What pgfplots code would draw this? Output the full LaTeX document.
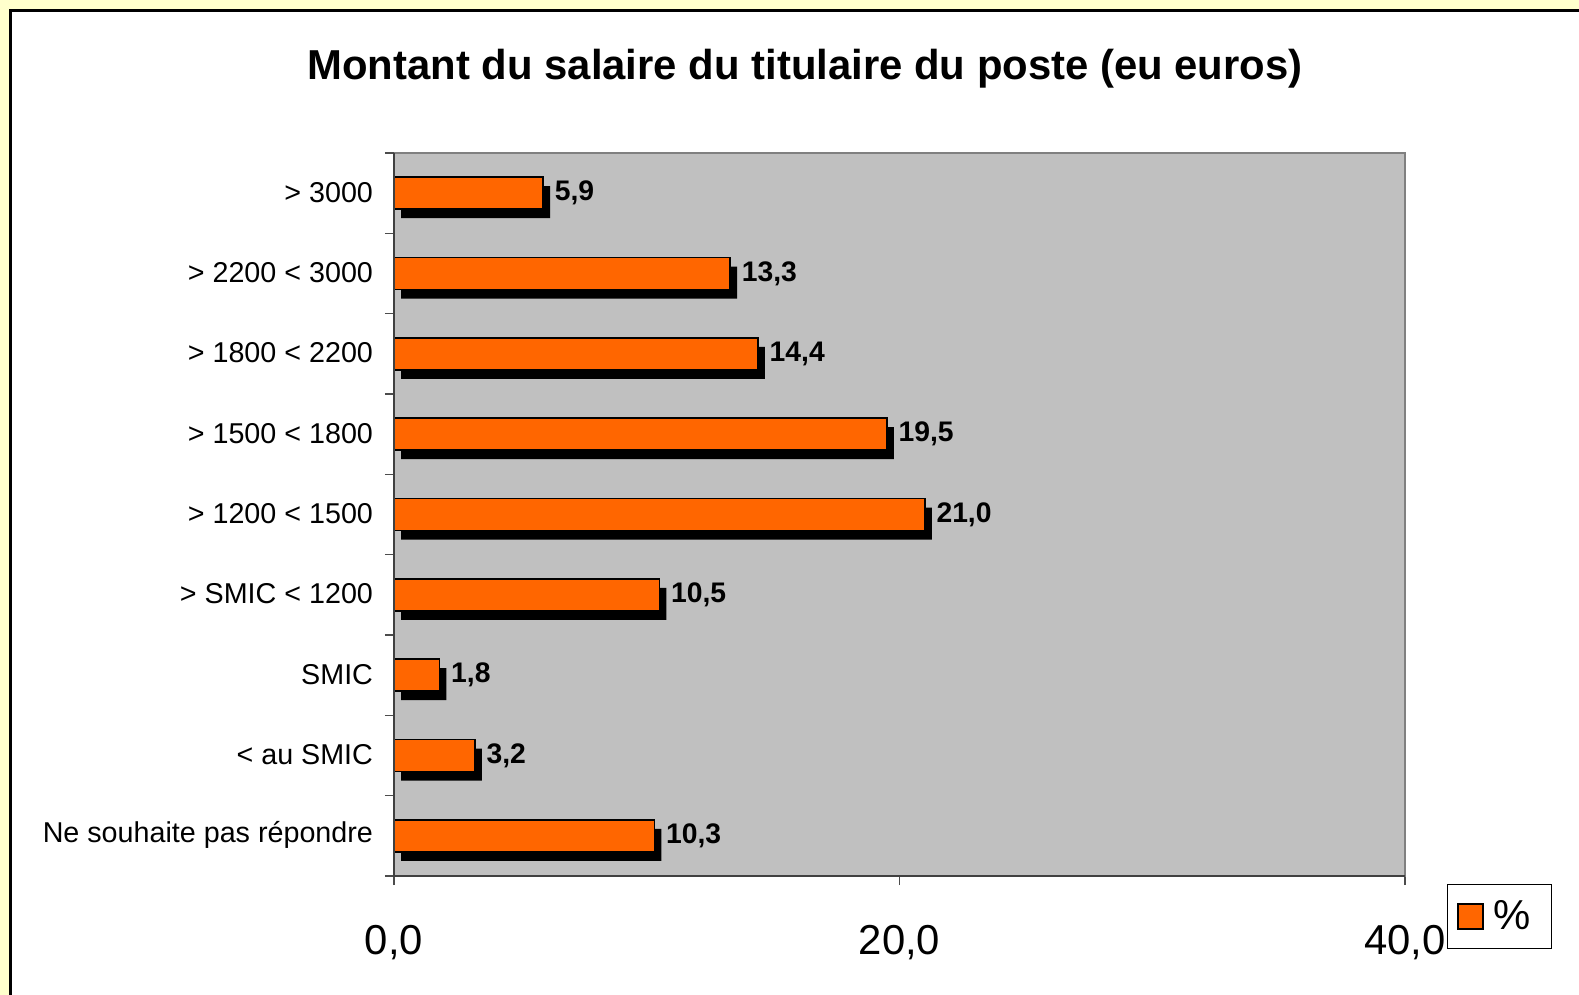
\documentclass[border=0pt]{standalone}
\usepackage{pgfplots}
\usepackage{pgfplotstable}
\pgfplotsset{compat=1.18}
\usepackage{fontspec}
\setmainfont{Liberation Sans}
\definecolor{bgyellow}{HTML}{FFFFCC}
\definecolor{barorange}{HTML}{FF6600}
\definecolor{plotgray}{HTML}{C0C0C0}
\definecolor{framegray}{HTML}{808080}

\pgfplotstableread{
y v
1 10.3
2 3.2
3 1.8
4 10.5
5 21.0
6 19.5
7 14.4
8 13.3
9 5.9
}\datatable

\begin{document}
\begin{tikzpicture}
\useasboundingbox (0,0) rectangle (789.5bp,-497.5bp);
\fill[bgyellow] (0,0) rectangle (789.5bp,-497.5bp);
\fill[white] (5.25bp,-5.25bp) rectangle (789.5bp,-497.5bp);
\draw[black, line width=1.5bp] (5.25bp,-497.5bp) -- (5.25bp,-5.25bp) -- (789.5bp,-5.25bp);
\node[font=\fontsize{21}{25}\selectfont\bfseries] at (402.5bp,-34.2bp) {Montant du salaire du titulaire du poste (eu euros)};

\begin{axis}[
  at={(197bp,-438bp)}, anchor=south west,
  scale only axis, width=505.5bp, height=361.5bp,
  xmin=0, xmax=40, ymin=0.5, ymax=9.5,
  clip=false,
  axis background/.style={fill=plotgray},
  axis line style={draw=framegray, line width=1.2bp},
  xtick pos=bottom, ytick pos=left,
  xtick={0,20,40}, xticklabels={{0,0},{20,0},{40,0}},
  ytick={0.5,1.5,...,8.5},
  yticklabels={Ne souhaite pas répondre, < au SMIC, SMIC, > SMIC < 1200, > 1200 < 1500, > 1500 < 1800, > 1800 < 2200, > 2200 < 3000, > 3000},
  extra y ticks={9.5}, extra y tick labels={},
  tick align=outside, major tick length=4.5bp,
  tick style={draw=black!70, line width=0.6bp},
  yticklabel style={font=\fontsize{14.4}{16}\selectfont, yshift=20.6bp, xshift=-2.5bp},
  xticklabel style={font=\fontsize{21}{25}\selectfont, yshift=-16.5bp},
  legend style={at={(1.0415,-0.011)}, anchor=north west, draw=black, line width=0.5bp, fill=white,
    font=\fontsize{21}{25}\selectfont, inner xsep=5bp, inner ysep=6bp,
    nodes={inner xsep=5bp, inner ysep=2bp}},
  after end axis/.code={\draw[black!75, line width=0.8bp] (rel axis cs:0,1) -- (rel axis cs:0,0) -- (rel axis cs:1,0);},
  /pgf/number format/assume math mode=true,
]
\addplot[xbar, bar width=16bp, bar shift=-4.5bp, xshift=3.5bp, fill=black, draw=none, forget plot]
  table[x=v, y=y] {\datatable};
\addplot[xbar, bar width=16bp, bar shift=0pt, fill=barorange, draw=black, line width=0.75bp,
  nodes near coords,
  point meta=x,
  every node near coord/.append style={font=\fontsize{14.2}{16}\selectfont\bfseries, anchor=west, inner xsep=0pt, xshift=5.5bp, text=black,
    /pgf/number format/fixed, /pgf/number format/fixed zerofill, /pgf/number format/precision=1, /pgf/number format/use comma},
  legend image code/.code={\draw[fill=barorange, draw=black, line width=0.75bp] (0bp,-6.25bp) rectangle (12.5bp,6.25bp);}
  ]
  table[x=v, y=y] {\datatable};
\addlegendentry{\%}
\end{axis}
\end{tikzpicture}
\end{document}
